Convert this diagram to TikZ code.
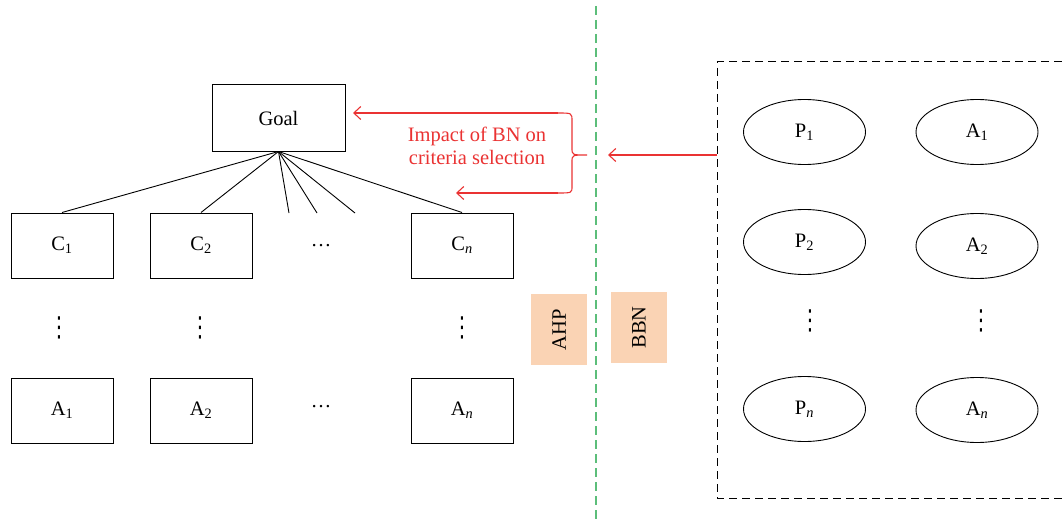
\documentclass[tikz,border=0pt]{standalone}
\usepackage{fontspec}
\setmainfont{Liberation Serif}
\newfontfamily\symfont{DejaVu Sans}
\usetikzlibrary{arrows.meta,shapes.geometric}
\definecolor{linkred}{RGB}{234,50,50}
\definecolor{sepgreen}{RGB}{92,190,122}
\definecolor{tagfill}{RGB}{250,211,180}
\newcommand{\coldots}{\scalebox{0.85}[1.15]{⋮}}

\begin{document}
\begin{tikzpicture}[x=1pt,y=-1pt,
  lbl/.style={font=\fontsize{20.5}{23}\selectfont},
  box/.style={lbl, draw, line width=1pt, minimum width=102pt, minimum height=65pt, inner sep=0pt},
  ell/.style={lbl, draw, ellipse, line width=0.9pt, minimum width=122pt, minimum height=65pt, inner sep=0pt},
  vdots/.style={inner sep=0pt, font=\symfont\fontsize{24}{24}\selectfont},
  hdots/.style={lbl, inner sep=0pt},
  tag/.style={lbl, fill=tagfill, rotate=90, inner sep=0pt, minimum width=71pt, minimum height=56pt},
  link/.style={linkred, line width=1.1pt},
  linkarrow/.style={link, -{Straight Barb[length=7pt,width=13pt,line width=1.1pt]}},
  tree/.style={line width=0.9pt}]
\useasboundingbox (0,0) rectangle (1062,524);

% AHP hierarchy
\node[box, minimum width=133pt, minimum height=66pt] (goal) at (278.5,118) {Goal};
\node[box] (c1) at (62,245.5) {C\textsubscript{1}};
\node[box] (c2) at (201,245.5) {C\textsubscript{2}};
\node[hdots] (cdots) at (321,246) {\dots};
\node[box] (cn) at (462,245.5) {C\textsubscript{\textit{n}}};

\node[vdots] (v1) at (59,328) {\coldots};
\node[vdots] (v2) at (200,328) {\coldots};
\node[vdots] (vn) at (462,328) {\coldots};

\node[box] (a1) at (62,410.5) {A\textsubscript{1}};
\node[box] (a2) at (201,410.5) {A\textsubscript{2}};
\node[hdots] (adots) at (321,407) {\dots};
\node[box] (an) at (462,410.5) {A\textsubscript{\textit{n}}};

\coordinate (s1) at (289,213);
\coordinate (s2) at (317,213);
\coordinate (s3) at (355,213);
\draw[tree] (goal.south) -- (c1.north);
\draw[tree] (goal.south) -- (c2.north);
\draw[tree] (goal.south) -- (s1);
\draw[tree] (goal.south) -- (s2);
\draw[tree] (goal.south) -- (s3);
\draw[tree] (goal.south) -- (cn.north);

% method tags and separator
\node[tag] (ahp) at (559,329.5) {AHP};
\node[tag] (bbn) at (639,327.5) {BBN};
\coordinate (septop) at (596,6);
\coordinate (sepbot) at (596,521);
\draw[sepgreen, line width=1.4pt, dash pattern=on 9pt off 5pt] (septop) -- (sepbot);

% Bayesian network panel
\draw[line width=1pt, dash pattern=on 8pt off 5pt] (1062,62) -- (717,62) -- (717,498) -- (1062,498);
\node[ell] (p1) at (804.5,132) {P\textsubscript{1}};
\node[ell] (q1) at (977,132) {A\textsubscript{1}};
\node[ell] (p2) at (804.5,242) {P\textsubscript{2}};
\node[ell] (q2) at (977,246) {A\textsubscript{2}};
\node[vdots] (pv) at (810,321) {\coldots};
\node[vdots] (qv) at (981,321) {\coldots};
\node[ell] (pn) at (804.5,409) {P\textsubscript{\textit{n}}};
\node[ell] (qn) at (977,410) {A\textsubscript{\textit{n}}};

% influence of the network on criteria selection
\coordinate (bbnin) at (717,155);
\coordinate (bbnout) at (608,155);
\draw[linkarrow] (bbnin) -- (bbnout);

\coordinate (brtop) at (558,113);
\coordinate (brbot) at (558,193);
\coordinate (tgttop) at (353,113);
\coordinate (tgtbot) at (456,193);
\draw[link] (brtop) .. controls (572,113) .. (572,121) -- (572,148)
  .. controls (572,155) .. (587,155)
  .. controls (572,155) .. (572,162) -- (572,186)
  .. controls (572,193) .. (brbot);
\draw[linkarrow] (brtop) -- (tgttop);
\draw[linkarrow] (brbot) -- (tgtbot);
\node[lbl, linkred, align=center] (impact) at (477,146) {Impact of BN on\\criteria selection};
\end{tikzpicture}
\end{document}
